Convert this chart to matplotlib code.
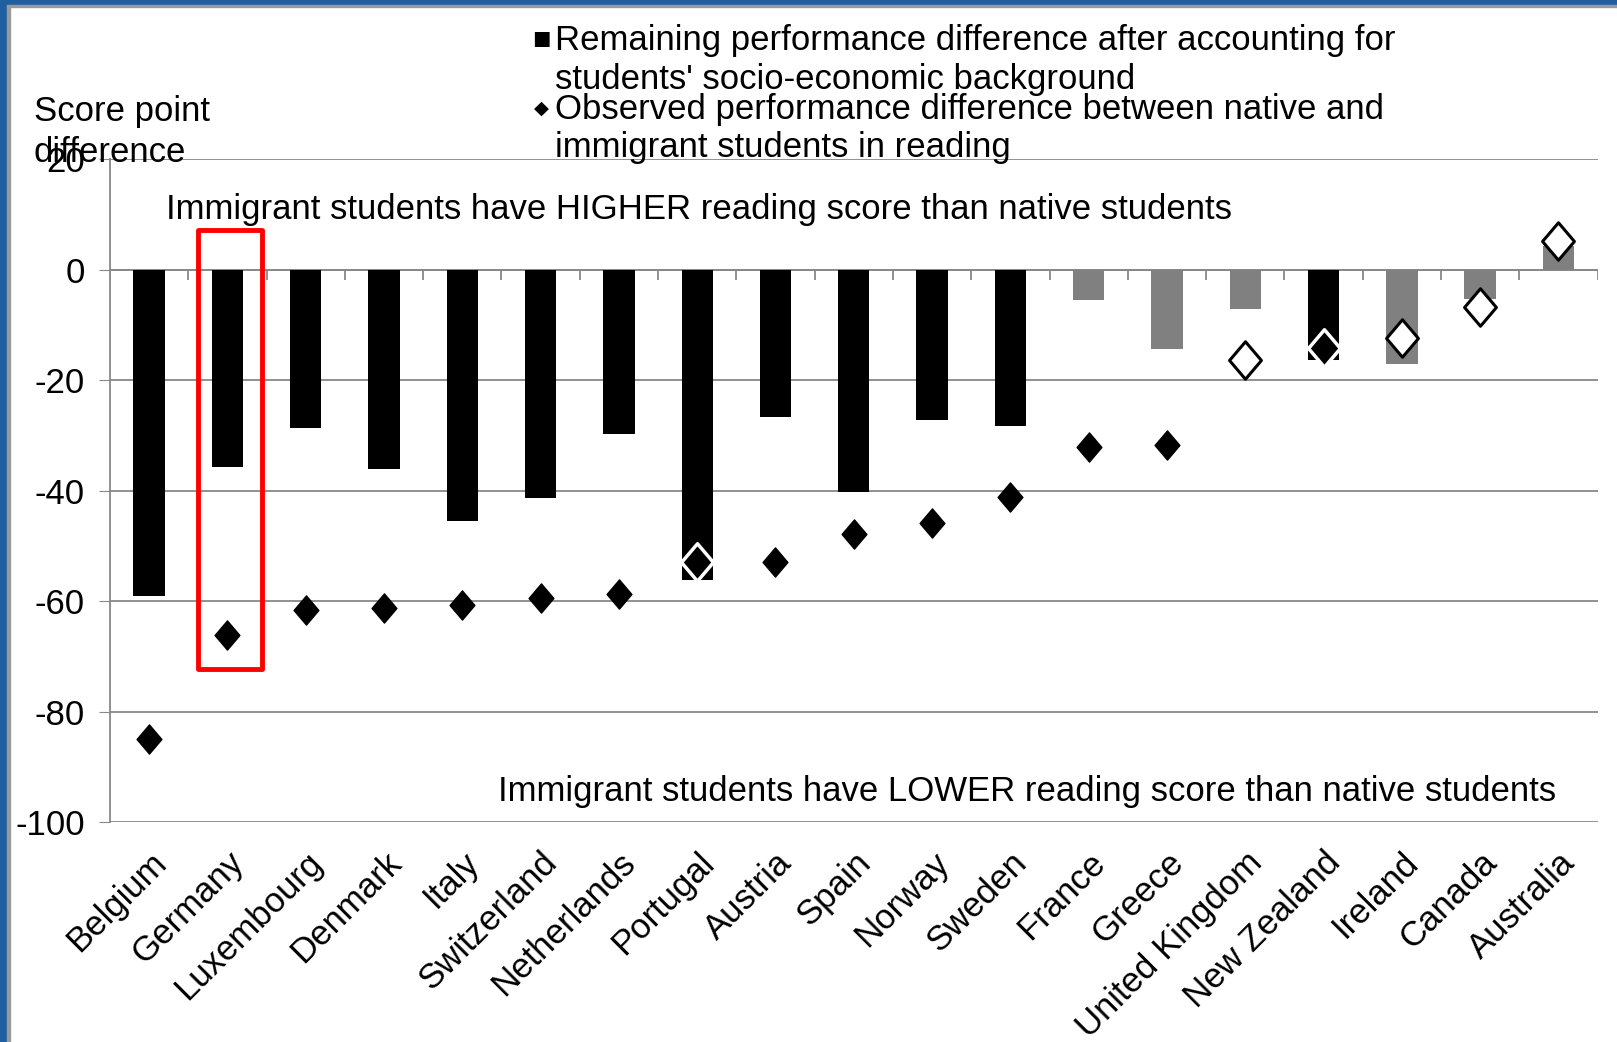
import numpy as np
import matplotlib.pyplot as plt
from matplotlib.path import Path
from matplotlib.patches import Rectangle

plt.rcParams['font.family'] = ['Liberation Sans', 'DejaVu Sans']
plt.rcParams['axes.unicode_minus'] = False

countries = ["Belgium", "Germany", "Luxembourg", "Denmark", "Italy", "Switzerland",
             "Netherlands", "Portugal", "Austria", "Spain", "Norway", "Sweden",
             "France", "Greece", "United Kingdom", "New Zealand", "Ireland",
             "Canada", "Australia"]
remaining = [-59.1, -35.7, -28.6, -36.1, -45.4, -41.3, -29.7, -56.1, -26.7, -40.2,
             -27.1, -28.2, -5.5, -14.3, -7.1, -16.4, -17.0, -5.2, 4.4]
remaining_sig = [1, 1, 1, 1, 1, 1, 1, 1, 1, 1, 1, 1, 0, 0, 0, 1, 0, 0, 0]
observed = [-84.9, -66.2, -61.5, -61.3, -60.7, -59.4, -58.7, -52.9, -52.9, -47.9,
            -45.8, -41.1, -32.1, -31.8, -16.3, -14.2, -12.3, -6.7, 5.2]
# 0 = not significant (white), 1 = significant, 2 = significant drawn over a bar
observed_sig = [1, 1, 1, 1, 1, 1, 1, 2, 1, 1, 1, 1, 1, 1, 0, 2, 0, 0, 0]

diamond = Path([(0, 1), (0.85, 0), (0, -1), (-0.85, 0), (0, 1)],
               [Path.MOVETO, Path.LINETO, Path.LINETO, Path.LINETO, Path.CLOSEPOLY])

fig = plt.figure(figsize=(16.17, 10.42), dpi=100)
ax = fig.add_axes([0.068, 0.211, 0.920, 0.636])

x = np.arange(len(countries))
bar_colors = ['black' if s else '#808080' for s in remaining_sig]
ax.bar(x, remaining, width=0.4, color=bar_colors, zorder=2)

for xi, v, s in zip(x, observed, observed_sig):
    if s == 1:
        ax.plot(xi, v, marker=diamond, ms=21, mfc='black', mec='black', mew=1, zorder=3)
    elif s == 2:
        ax.plot(xi, v, marker=diamond, ms=27, mfc='black', mec='white', mew=2.5, zorder=3)
    else:
        ax.plot(xi, v, marker=diamond, ms=27, mfc='white', mec='black', mew=2.2, zorder=3)

ax.set_xlim(-0.5, len(countries) - 0.5)
ax.set_ylim(-100, 20)
ax.set_yticks(np.arange(-100, 21, 20))
ax.tick_params(axis='y', length=8, color='#888888', labelsize=25, pad=10)
ax.yaxis.grid(True, color='#888888', lw=1.3)
ax.set_axisbelow(True)
for s in ['top', 'right', 'bottom']:
    ax.spines[s].set_visible(False)
ax.spines['left'].set_color('#888888')
ax.spines['left'].set_linewidth(1.3)

# x axis line at zero with tick marks between categories
ax.axhline(0, color='#888888', lw=1.3, zorder=1)
ax.vlines(np.arange(len(countries) + 1) - 0.5, -1.8, 0, color='#888888', lw=1.3, zorder=1)

ax.set_xticks(x)
ax.set_xticklabels(countries, rotation=45, ha='right', rotation_mode='anchor', fontsize=25)
ax.tick_params(axis='x', length=0, pad=17)

# highlight box around Germany
ax.add_patch(Rectangle((0.63, -72.3), 0.81, 79.6, fill=False, ec='red', lw=3.5, zorder=4,
                       joinstyle='round'))

ax.text(0.21, 11, "Immigrant students have HIGHER reading score than native students",
        fontsize=25, va='center', ha='left')
ax.text(17.97, -94.5, "Immigrant students have LOWER reading score than native students",
        fontsize=25, va='center', ha='right')

fig.text(0.021, 0.873, "Score point\ndifference", fontsize=25, va='center', ha='left',
         linespacing=1.3)

# legend
fig.text(0.329, 0.961, "\u25A0", fontsize=22, va='center', ha='left')
fig.text(0.343, 0.961, "Remaining performance difference after accounting for",
         fontsize=25, va='center', ha='left')
fig.text(0.343, 0.924, "students' socio-economic background", fontsize=25, va='center', ha='left')
fig.text(0.330, 0.895, "\u25C6", fontsize=14, va='center', ha='left')
fig.text(0.343, 0.895, "Observed performance difference between native and",
         fontsize=25, va='center', ha='left')
fig.text(0.343, 0.858, "immigrant students in reading", fontsize=25, va='center', ha='left')

# frame borders
fig.patches.append(Rectangle((0, 0), 0.0045, 1, transform=fig.transFigure, color='#1f5fa0'))
fig.patches.append(Rectangle((0.0045, 0), 0.0015, 0.995, transform=fig.transFigure, color='#9a9a9a'))
fig.patches.append(Rectangle((0, 0.9955), 1, 0.0045, transform=fig.transFigure, color='#1f5fa0'))
fig.patches.append(Rectangle((0.0045, 0.9935), 1, 0.002, transform=fig.transFigure, color='#9a9a9a'))

fig.savefig("out.png", dpi=100)
